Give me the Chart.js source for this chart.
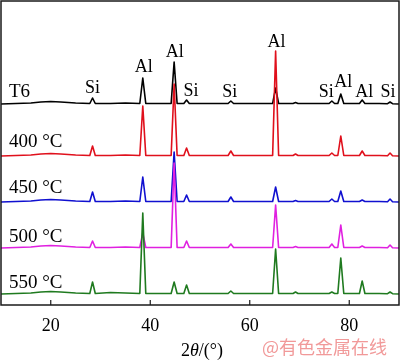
<!DOCTYPE html>
<html><head><meta charset="utf-8">
<script src="https://cdn.jsdelivr.net/npm/chart.js@4/dist/chart.umd.min.js"></script>
<style>html,body{margin:0;padding:0;background:#fff}#wrap{width:400px;height:362px;position:relative}</style>
</head><body><div id="wrap"><canvas id="c" width="400" height="362"></canvas></div>
<script>
// 2θ positions (degrees) shared by all traces
const twoTheta = [10,13,16,18,20,22,25,27.85,28.4,28.95,32,35,37.9,38.5,39.1,41,44.2,44.8,45.4,46.75,47.3,47.85,52,55.65,56.2,56.75,60,64.6,65.2,65.8,68.7,69.2,69.7,73,75.95,76.5,77.05,77.7,78.3,78.9,82.05,82.6,83.15,86,87.7,88.2,88.7,90];
// intensities (arb. units) above each trace's baseline
const t6   = [0,0.5,1,2,2.5,2,1,0.5,6,0.5,0.5,1,0.5,26,0.5,0.5,0.5,42,0.5,0.5,4,0.5,0.5,0.5,3,0.5,0.5,0.5,16,0.5,0.5,1.5,0.5,0.5,0.5,3,0.5,0.5,10,0.5,0.5,4,0.5,0.5,0.3,2,0.3,0];
const c400 = [0,0.5,1,2,2.5,2,1,0.5,10,0.5,0.5,1,0.5,50,0.5,0.5,0.5,72,0.5,0.5,8,0.5,0.5,0.5,5,0.5,0.5,0.5,105,0.5,0.5,2,0.5,0.5,0.5,3,0.5,0.5,20,0.5,0.5,5,0.5,0.5,0.3,3,0.3,0];
const c450 = [0,0.5,1,2,2.5,2,1,0.5,10,0.5,0.5,1,0.5,25,0.5,0.5,0.5,50,0.5,0.5,7,0.5,0.5,0.5,5,0.5,0.5,0.5,15,0.5,0.5,1.5,0.5,0.5,0.5,3,0.5,0.5,11,0.5,0.5,2,0.5,0.5,0.3,3,0.3,0];
const c500 = [0,0.5,1,2,2.5,2,1,0.5,7,0.5,0.5,1,0.5,15,0.5,0.5,0.5,85,0.5,0.5,7,0.5,0.5,0.5,4,0.5,0.5,0.5,43,0.5,0.5,1.5,0.5,0.5,0.5,4,0.5,0.5,23,0.5,0.5,2,0.5,0.5,0.3,3,0.3,0];
const c550 = [0,0.5,1,2,2.5,2,1,0.5,12,0.5,1.5,1,0.5,81,0.5,0.5,0.5,12,0.5,0.5,9,0.5,0.5,0.5,3,0.5,0.5,0.5,45,0.5,0.5,2,0.5,0.5,0.5,2,0.5,0.5,36,0.5,0.5,13,0.5,0.5,0.3,2,0.3,0];
const seriesLabels = ['T6','400 °C','450 °C','500 °C','550 °C'];
const offsets = [201,149,103,57,11];
const seriesLabelY = [208,158,112,63,17];
const colors = ['#000000','#e0101c','#1010d0','#e020e0','#1f7a1f'];
const xTicks = [20,40,60,80];
const peakLabels = ['Si','Al','Al','Si','Si','Al','Si','Al','Al','Si'];
const peakLabelX = [28.4,38.7,44.9,48.2,56.0,65.4,75.4,78.8,83.0,87.8];
const peakLabelY = [212,233,248,209,208,258,208,218,208,208];

const series = [t6,c400,c450,c500,c550];
const datasets = series.map((arr,i)=>({
  label: seriesLabels[i],
  data: arr.map((v,j)=>({x: twoTheta[j], y: v + offsets[i]})),
  borderColor: colors[i], borderWidth: 1.6, pointRadius: 0, tension: 0, fill:false,
  borderJoinStyle:'round',
  order: 4 - i
}));

const deco = {
  id:'deco',
  afterDatasetsDraw(chart){
    const {ctx, chartArea:a, scales:{x,y}} = chart;
    ctx.save();
    // frame
    ctx.strokeStyle='#1a1a1a'; ctx.lineWidth=1.5;
    ctx.strokeRect(a.left, a.top, a.right-a.left, a.bottom-a.top);
    // inward ticks
    ctx.lineWidth=1.2;
    xTicks.forEach(v=>{const px=x.getPixelForValue(v); ctx.beginPath(); ctx.moveTo(px,a.bottom); ctx.lineTo(px,a.bottom-5); ctx.stroke();});
    // series labels
    ctx.font='19px "Liberation Serif"'; ctx.textBaseline='alphabetic'; ctx.textAlign='left'; ctx.fillStyle='#000';
    seriesLabels.forEach((t,i)=>ctx.fillText(t, x.getPixelForValue(11.6), y.getPixelForValue(seriesLabelY[i])));
    // peak labels
    ctx.font='18px "Liberation Serif"'; ctx.textAlign='center';
    peakLabels.forEach((t,i)=>ctx.fillText(t, x.getPixelForValue(peakLabelX[i]), y.getPixelForValue(peakLabelY[i])));
    // axis title 2θ/(°)
    const f1='18px "Liberation Serif"', f2='italic 18px "Liberation Serif"';
    ctx.textAlign='left';
    ctx.font=f1; const w1=ctx.measureText('2').width, w3=ctx.measureText('/(°)').width;
    ctx.font=f2; const w2=ctx.measureText('θ').width;
    let sx=(a.left+a.right)/2 - (w1+w2+w3)/2 + 2; const by=356;
    ctx.font=f1; ctx.fillText('2',sx,by); sx+=w1;
    ctx.font=f2; ctx.fillText('θ',sx,by); sx+=w2;
    ctx.font=f1; ctx.fillText('/(°)',sx,by);
    // watermark
    ctx.font='18px "Noto Sans CJK SC"'; ctx.fillStyle='rgba(238,135,135,0.85)';
    ctx.fillText('@有色金属在线', 262, 354);
    ctx.restore();
  }
};

new Chart(document.getElementById('c'), {
  type:'line',
  data:{datasets},
  options:{
    responsive:false, animation:false,
    layout:{padding:{left:1,right:1,top:1,bottom:0}},
    plugins:{legend:{display:false}, tooltip:{enabled:false}},
    scales:{
      x:{type:'linear', min:10, max:90,
        afterBuildTicks:s=>{s.ticks=xTicks.map(v=>({value:v}));},
        afterFit:s=>{s.height=57;},
        grid:{display:false, drawTicks:false}, border:{display:false},
        ticks:{padding:10, color:'#000', font:{family:'Liberation Serif', size:18}, maxRotation:0}},
      y:{display:false, min:0, max:304}
    }
  },
  plugins:[deco]
});
</script></body></html>
